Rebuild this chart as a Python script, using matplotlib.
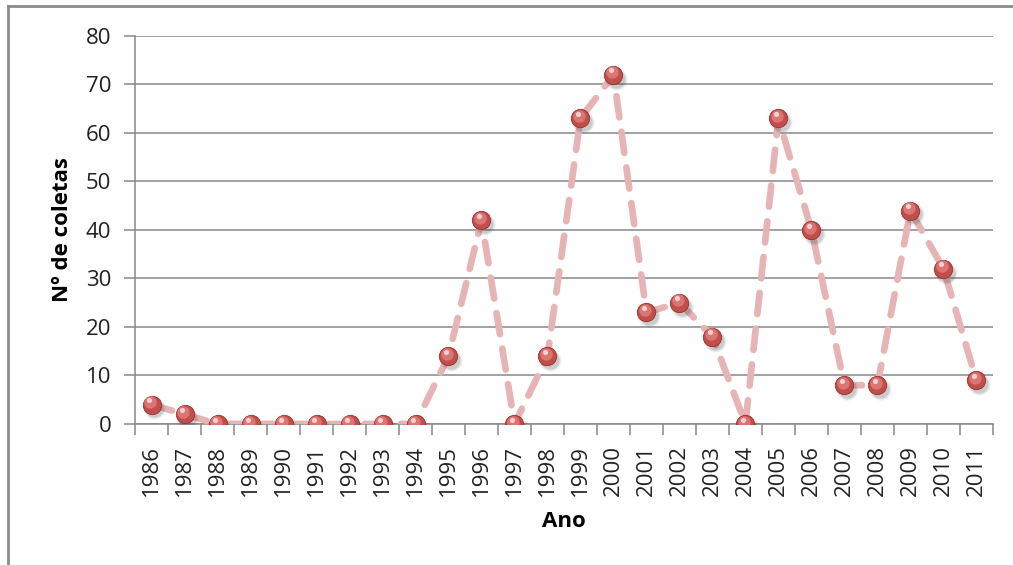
import numpy as np
import matplotlib.pyplot as plt
from matplotlib.lines import Line2D

plt.rcParams['font.family'] = ['Open Sans', 'DejaVu Sans']

anos = [str(a) for a in range(1986, 2012)]
coletas = [4, 2, 0, 0, 0, 0, 0, 0, 0, 14, 42, 0, 14, 63, 72,
           23, 25, 18, 0, 63, 40, 8, 8, 44, 32, 9]

fig = plt.figure(figsize=(10.13, 5.65), dpi=100)
ax = fig.add_axes([0.1333, 0.2496, 0.8469, 0.6867])

x = np.arange(len(anos))
y = np.array(coletas)
grid_c = '#888888'

# dashed pink connecting line
ax.plot(x, y, color='#e6b4b4', lw=4.8, ls=(0, (3.2, 2.2)),
        solid_capstyle='round', dash_capstyle='round', zorder=3)

# spherical markers: soft shadow, body, highlight
for s_, a_ in [(260, 0.06), (210, 0.10), (170, 0.14)]:
    ax.scatter(x + 0.08, y - 0.8, s=s_, color='#444444', alpha=a_,
               lw=0, zorder=4)
ax.scatter(x, y, s=175, color='#c04e4b', edgecolor='#983230',
           lw=0.6, zorder=5)
ax.scatter(x - 0.04, y + 0.5, s=80, color='#da7572', lw=0, zorder=6)
ax.scatter(x - 0.07, y + 0.9, s=14, color='#f6d0cf', lw=0, zorder=7)

ax.set_xlim(-0.5, len(anos) - 0.5)
ax.set_ylim(0, 80)
ax.set_yticks(range(0, 81, 10))
ax.yaxis.grid(True, color=grid_c, lw=1.1)
ax.set_axisbelow(True)

ax.set_xticks(np.arange(-0.5, len(anos), 1))
ax.set_xticklabels([])
ax.set_xticks(x, minor=True)
ax.set_xticklabels(anos, minor=True, rotation=90, fontsize=16, color='#222222')
ax.tick_params(axis='x', which='major', length=8, color=grid_c, width=1.1)
ax.tick_params(axis='x', which='minor', length=0, pad=15)
ax.tick_params(axis='y', length=8, color=grid_c, width=1.1,
               labelsize=16, labelcolor='#222222', pad=9)

for s in ['top', 'right']:
    ax.spines[s].set_visible(False)
for s in ['left', 'bottom']:
    ax.spines[s].set_color(grid_c)
    ax.spines[s].set_linewidth(1.1)

ax.set_ylabel('Nº de coletas', fontsize=16, fontweight='bold', labelpad=9)
ax.set_xlabel('Ano', fontsize=16, fontweight='bold', labelpad=11)

# chart area frame (top and left edges)
fig.add_artist(Line2D([8 / 1013, 1], [1 - 6 / 565, 1 - 6 / 565],
                      transform=fig.transFigure, color='#8c8c8c', lw=2))
fig.add_artist(Line2D([8 / 1013, 8 / 1013], [0, 1 - 6 / 565],
                      transform=fig.transFigure, color='#8c8c8c', lw=2))

fig.savefig('out.png', dpi=100)
